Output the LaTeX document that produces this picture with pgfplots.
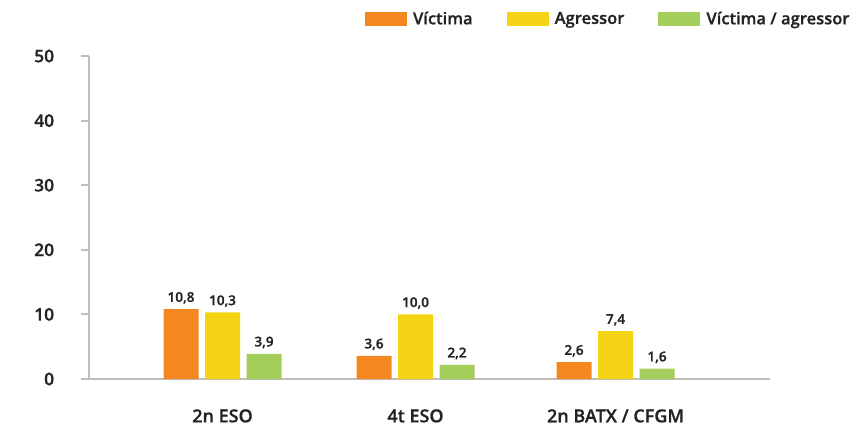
\documentclass[border=0pt]{standalone}
\usepackage{pgfplots}
\pgfplotsset{compat=1.18}
\usepackage{fontspec}
\IfFontExistsTF{Open Sans Semibold}{%
  \setmainfont{Open Sans}[BoldFont={Open Sans Semibold},BoldFeatures={FakeBold=0.8}]%
}{%
  \IfFontExistsTF{OpenSans-SemiBold}{%
    \setmainfont{Open Sans}[BoldFont={OpenSans-SemiBold},BoldFeatures={FakeBold=0.8}]%
  }{%
    \IfFontExistsTF{OpenSans-Semibold}{%
      \setmainfont{Open Sans}[BoldFont={OpenSans-Semibold},BoldFeatures={FakeBold=0.8}]%
    }{%
      \setmainfont{Open Sans}%
    }%
  }%
}
\definecolor{cOrange}{RGB}{245,135,32}
\definecolor{cYellow}{RGB}{245,212,22}
\definecolor{cGreen}{RGB}{163,206,92}
\definecolor{cAxis}{RGB}{190,190,190}
\definecolor{cText}{RGB}{35,35,35}
\begin{document}
\begin{tikzpicture}
\begin{axis}[
  scale only axis,
  width=510.75pt, height=242.25pt,
  xmin=89, xmax=770,
  ymin=0, ymax=50,
  ytick={0,10,20,30,40,50},
  xtick={222.5,415.5,615.5},
  xticklabels={2n ESO,4t ESO,2n BATX / CFGM},
  axis x line*=bottom,
  axis y line*=left,
  axis line style={cAxis, line width=1.5pt, -},
  major tick style={cAxis, line width=1.5pt},
  tick align=outside,
  major tick length=6pt,
  xtick style={draw=none},
  /pgf/number format/assume math mode=true,
  yticklabel style={font=\fontsize{13pt}{15pt}\selectfont\bfseries, text=cText, anchor=east, inner sep=0pt, xshift=-20pt},
  xticklabel style={font=\fontsize{13.5pt}{16pt}\selectfont\bfseries, text=cText, anchor=north, inner sep=0pt, yshift=-16.5pt},
  ybar,
  bar width=35,
  nodes near coords,
  nodes near coords style={font=\fontsize{10.2pt}{12pt}\selectfont\bfseries, text=cText, inner sep=0pt, yshift=4pt,
    /pgf/number format/.cd, fixed, fixed zerofill, precision=1, use comma, assume math mode=true},
  legend style={at={(rel axis cs:0.405,1.1146)}, anchor=west, draw=none, fill=none, inner sep=0pt,
    font=\fontsize{12.4pt}{14pt}\selectfont\bfseries, text=cText,
    legend columns=3,
    nodes={inner sep=0pt},
    /tikz/every odd column/.append style={column sep=4.5pt},
    /tikz/every even column/.append style={column sep=25.5pt}},
  legend image code/.code={\fill[#1] (0pt,-5.25pt) rectangle (31.5pt,5.25pt);},
  legend cell align=left,
  clip=false,
]
\addplot[fill=cOrange, draw=none, bar shift=-41.5] coordinates {(222.5,10.8) (415.5,3.6) (615.5,2.6)};
\addlegendentry{Víctima}
\addplot[fill=cYellow, draw=none, bar shift=0] coordinates {(222.5,10.3) (415.5,10.0) (615.5,7.4)};
\addlegendentry{Agressor}
\addplot[fill=cGreen, draw=none, bar shift=41.5] coordinates {(222.5,3.9) (415.5,2.2) (615.5,1.6)};
\addlegendentry{Víctima / agressor}
\coordinate (bl) at (rel axis cs:-0.1307,-0.1486);
\coordinate (tr) at (rel axis cs:1.1292,1.1734);
\end{axis}
\pgfresetboundingbox
\path[use as bounding box] (bl) rectangle (tr);
\end{tikzpicture}
\end{document}
